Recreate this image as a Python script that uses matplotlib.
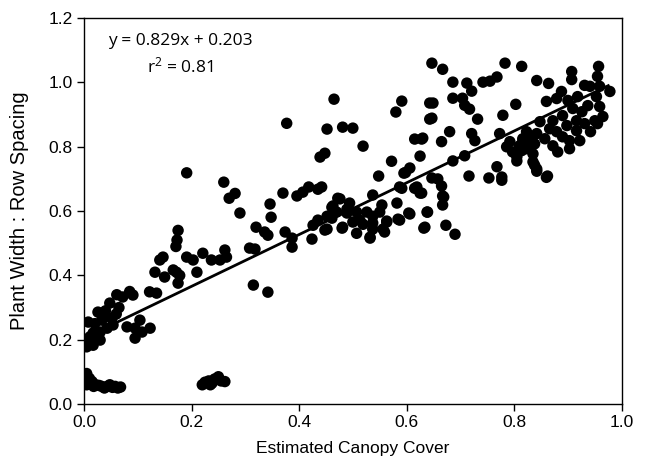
import matplotlib
matplotlib.use("Agg")
import matplotlib.pyplot as plt

plt.rcParams['font.family'] = ['Liberation Sans', 'DejaVu Sans']

# Estimated canopy cover (x) and plant width : row spacing (y)
pts = [
    # low band near x=0
    (0.005,0.095),(0.010,0.080),(0.005,0.060),(0.012,0.065),(0.018,0.055),(0.022,0.060),
    (0.028,0.058),(0.033,0.055),(0.038,0.050),(0.043,0.055),(0.048,0.060),(0.053,0.052),
    (0.058,0.055),(0.063,0.050),(0.068,0.053),(0.015,0.070),
    # low band near x=0.24
    (0.220,0.060),(0.225,0.068),(0.232,0.072),(0.238,0.065),(0.243,0.078),(0.250,0.085),
    (0.255,0.072),(0.262,0.070),(0.235,0.060),
    # left cluster
    (0.005,0.178),(0.017,0.183),(0.011,0.209),(0.017,0.221),(0.030,0.224),(0.030,0.199),
    (0.043,0.236),(0.054,0.246),(0.008,0.255),(0.033,0.261),(0.052,0.267),(0.026,0.286),
    (0.048,0.314),(0.061,0.340),(0.072,0.333),(0.085,0.350),(0.091,0.339),(0.080,0.240),
    (0.095,0.236),(0.104,0.261),(0.095,0.205),(0.123,0.236),(0.108,0.224),(0.122,0.349),
    (0.135,0.345),(0.040,0.290),(0.020,0.250),(0.060,0.280),(0.065,0.300),(0.015,0.190),
    (0.005,0.200),(0.038,0.270),
    # x 0.13 - 0.35
    (0.132,0.410),(0.150,0.395),(0.172,0.410),(0.175,0.376),(0.210,0.410),(0.191,0.719),
    (0.260,0.690),(0.281,0.655),(0.270,0.640),(0.290,0.594),(0.320,0.550),(0.175,0.540),
    (0.173,0.510),(0.171,0.490),(0.147,0.457),(0.141,0.448),(0.166,0.417),(0.178,0.400),
    (0.191,0.457),(0.203,0.448),(0.221,0.469),(0.237,0.448),(0.253,0.448),(0.262,0.479),
    (0.265,0.457),(0.308,0.485),(0.318,0.482),(0.315,0.370),(0.342,0.348),
    # middle
    (0.465,0.948),(0.377,0.873),(0.452,0.855),(0.481,0.861),(0.500,0.858),(0.519,0.802),
    (0.591,0.942),(0.580,0.908),(0.643,0.936),(0.643,0.886),(0.615,0.824),(0.628,0.824),
    (0.625,0.771),(0.572,0.755),(0.448,0.780),(0.439,0.768),(0.606,0.734),(0.595,0.718),
    (0.548,0.709),(0.591,0.671),(0.615,0.671),(0.625,0.656),(0.537,0.650),(0.370,0.656),
    (0.346,0.622),(0.396,0.647),(0.407,0.659),(0.418,0.675),(0.435,0.668),(0.472,0.640),
    (0.582,0.625),(0.348,0.581),(0.336,0.535),(0.342,0.525),(0.374,0.535),(0.387,0.516),
    (0.387,0.488),(0.424,0.513),(0.426,0.556),(0.435,0.572),(0.448,0.541),(0.461,0.578),
    (0.461,0.612),(0.480,0.547),(0.489,0.594),(0.494,0.625),(0.507,0.531),(0.513,0.572),
    (0.532,0.516),(0.537,0.563),(0.554,0.619),(0.559,0.535),(0.563,0.566),(0.587,0.572),
    (0.606,0.591),(0.634,0.550),(0.638,0.597),
    (0.598,0.720),(0.587,0.675),(0.619,0.675),(0.604,0.594),(0.584,0.575),(0.442,0.675),
    (0.476,0.638),(0.463,0.616),(0.452,0.584),(0.470,0.597),(0.489,0.606),(0.507,0.597),
    (0.526,0.597),(0.537,0.584),(0.550,0.597),(0.563,0.569),(0.500,0.566),(0.481,0.550),
    (0.519,0.559),(0.537,0.544),(0.556,0.544),(0.452,0.544),(0.532,0.519),
    # x 0.63 - 0.82
    (0.680,0.847),(0.665,0.816),(0.721,0.841),(0.727,0.819),(0.773,0.841),(0.686,0.756),
    (0.708,0.772),(0.716,0.709),(0.753,0.703),(0.768,0.738),(0.777,0.706),(0.786,0.800),
    (0.797,0.784),(0.805,0.769),(0.810,0.803),(0.816,0.825),(0.823,0.794),(0.792,0.816),
    (0.658,0.700),(0.667,0.647),(0.667,0.619),
    (0.647,1.060),(0.667,1.041),(0.783,1.060),(0.686,1.001),(0.712,0.998),(0.721,0.973),
    (0.742,1.001),(0.755,1.004),(0.768,1.017),(0.649,0.936),(0.686,0.951),(0.704,0.951),
    (0.708,0.929),(0.717,0.917),(0.803,0.932),(0.647,0.889),(0.732,0.886),(0.779,0.898),
    (0.630,0.827),(0.777,0.696),(0.805,0.756),(0.838,0.743),(0.842,0.724),(0.860,0.705),
    (0.647,0.703),(0.665,0.678),(0.628,0.656),(0.669,0.644),(0.639,0.597),(0.632,0.547),
    (0.673,0.556),(0.690,0.528),
    # dense right cluster
    (0.814,1.050),(0.957,1.050),(0.955,1.019),(0.907,1.034),(0.907,1.009),(0.842,1.006),
    (0.864,0.997),(0.931,0.991),(0.941,0.988),(0.959,0.988),(0.978,0.972),(0.888,0.972),
    (0.900,0.944),(0.918,0.956),(0.953,0.956),(0.860,0.941),(0.879,0.950),(0.937,0.928),
    (0.959,0.925),(0.909,0.919),(0.926,0.909),(0.890,0.897),(0.965,0.894),(0.950,0.881),
    (0.872,0.881),(0.916,0.881),(0.848,0.878),(0.898,0.866),(0.931,0.872),(0.955,0.872),
    (0.866,0.856),(0.879,0.847),(0.916,0.850),(0.942,0.847),(0.842,0.841),(0.823,0.847),
    (0.829,0.825),(0.890,0.831),(0.857,0.825),(0.903,0.819),(0.816,0.816),(0.922,0.819),
    (0.838,0.809),(0.872,0.803),(0.814,0.788),(0.829,0.794),(0.881,0.784),(0.903,0.794),
    (0.835,0.778),(0.835,0.753),(0.842,0.731),(0.862,0.709),
]
canopy_cover = [p[0] for p in pts]
width_ratio = [p[1] for p in pts]

# fitted line as drawn (endpoints)
fit_x = [0.0, 0.975]
fit_y = [0.205, 0.99]
equation = "y = 0.829x + 0.203"
r2_text = "r$\\mathregular{^2}$ = 0.81"

x_ticks = [0.0, 0.2, 0.4, 0.6, 0.8, 1.0]
y_ticks = [0.0, 0.2, 0.4, 0.6, 0.8, 1.0, 1.2]

fig = plt.figure(figsize=(6.51, 4.65), dpi=100)
ax = fig.add_axes([0.129, 0.131, 0.826, 0.830])
ax.scatter(canopy_cover, width_ratio, s=68, color='black', edgecolors='none', zorder=3)
ax.plot(fit_x, fit_y, color='black', lw=2.0, zorder=4)

ax.set_xlim(0, 1.0)
ax.set_ylim(0, 1.2)
ax.set_xticks(x_ticks)
ax.set_yticks(y_ticks)
ax.set_xticklabels([f"{v:.1f}" for v in x_ticks])
ax.set_yticklabels([f"{v:.1f}" for v in y_ticks])
ax.tick_params(direction='out', length=5, width=1, labelsize=12.5, colors='black', pad=3)
for s in ax.spines.values():
    s.set_linewidth(1.0)
    s.set_color('black')

ax.set_xlabel("Estimated Canopy Cover", fontsize=12.5, labelpad=8)
ax.set_ylabel("Plant Width : Row Spacing", fontsize=14.5, labelpad=14)

ax.text(0.045, 0.94, equation, transform=ax.transAxes, fontsize=12.5,
        family=['Open Sans', 'DejaVu Sans'], va='center', ha='left')
ax.text(0.117, 0.875, r2_text, transform=ax.transAxes, fontsize=12.5,
        family=['Open Sans', 'DejaVu Sans'], va='center', ha='left')

fig.savefig("out.png", dpi=100)
